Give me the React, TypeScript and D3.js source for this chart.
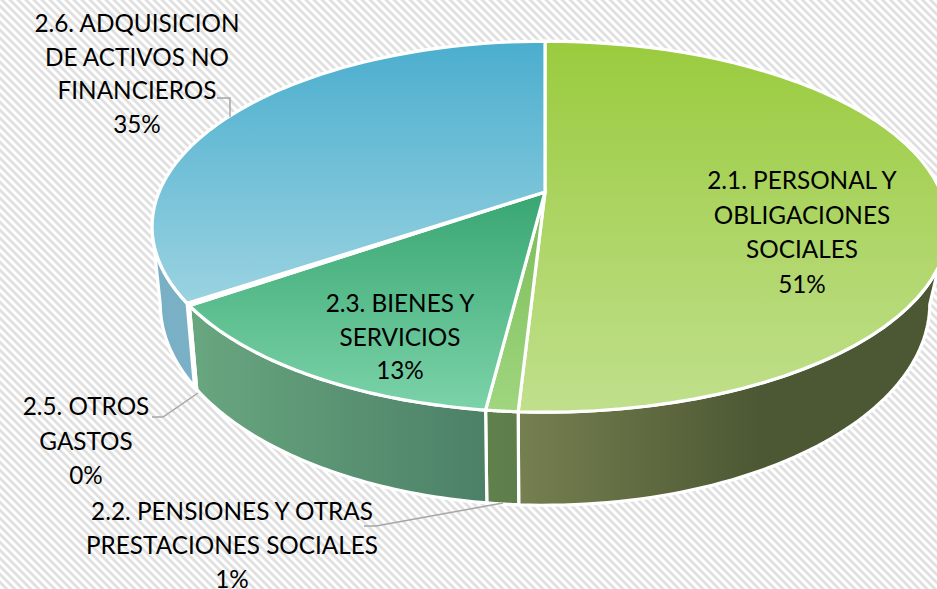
import React from "react";
import * as d3 from "d3";

const W = 937, H = 589;
const categories = ["2.1. PERSONAL Y OBLIGACIONES SOCIALES", "2.2. PENSIONES Y OTRAS PRESTACIONES SOCIALES", "2.3. BIENES Y SERVICIOS", "2.5. OTROS GASTOS", "2.6. ADQUISICION DE ACTIVOS NO FINANCIEROS"];
const values = [50.9, 1.1, 13.4, 0.2, 34.4];
const topFrom = ["#9ACB3E", "#7BBB58", "#38A672", "#ffffff", "#4BAECE"];
const topTo = ["#C0DF8C", "#9FD67E", "#7CD3A9", "#ffffff", "#9BD3E1"];
const sideFrom = ["#757F50", "#60814A", "#68A67F", "#ffffff", "#7AB0C5"];
const sideTo = ["#4C5833", "#5D7E4C", "#4C8067", "#ffffff", "#7FB2C6"];
const labelLines = [
  ["2.1. PERSONAL Y", "OBLIGACIONES", "SOCIALES", "51%"],
  ["2.2. PENSIONES Y OTRAS", "PRESTACIONES SOCIALES", "1%"],
  ["2.3. BIENES Y", "SERVICIOS", "13%"],
  ["2.5. OTROS", "GASTOS", "0%"],
  ["2.6. ADQUISICION", "DE ACTIVOS NO", "FINANCIEROS", "35%"],
];
const labelX = [802, 232, 400, 86, 137];
const labelY = [189, 520, 312, 415, 32];
const labelStep = [34.6, 34, 33.6, 34.5, 33.5];
const leaders = [
  null,
  [[364, 526], [376, 526], [503, 503]],
  null,
  [[152, 417], [163, 417], [198, 393]],
  [[217, 98], [230, 98], [230, 117]],
];

const K = -0.187;
const project = (cy: number, bxRight: number, bxLeft: number, by: number) => (t: number): [number, number] => {
  const X = Math.sin(t), Y = -Math.cos(t), w = 1 + K * Y;
  return [545 + ((X > 0 ? bxRight : bxLeft) * X) / w, cy + (by * Y) / w];
};
const topRim = project(192, 396, 386, 179);
const lowRim = project(266, 378, 378, 194.5);
const sample = (f: (t: number) => [number, number], a: number, b: number) =>
  d3.range(0, 61).map((i) => f(a + ((b - a) * i) / 60));
const line = d3.line();
const rad = (deg: number) => (deg * Math.PI) / 180;
const sideMin = rad(101), sideMax = rad(259);

export default function App() {
  const arcs = d3.pie<number>().sort(null)(values);
  return (
    <svg width={W} height={H} style={{ position: "absolute", left: 0, top: 0 }} fontFamily="Lato" fontSize={24.3}>
      <defs>
        <pattern id="hatch" width="5.66" height="5.66" patternUnits="userSpaceOnUse" patternTransform="rotate(-45)">
          <rect width="5.66" height="5.66" fill="#ffffff" />
          <rect width="2.8" height="5.66" fill="#e0e0e0" />
        </pattern>
        {arcs.map((a, i) => {
          const xs = sample(lowRim, a.startAngle, a.endAngle).map((p) => p[0]);
          return (
            <React.Fragment key={i}>
              <linearGradient id={`top${i}`} gradientUnits="userSpaceOnUse" x1="0" x2="0" y1={i === 0 || i === 4 ? 42 : 192} y2={i === 4 ? 305 : 411}>
                <stop offset="0" stopColor={topFrom[i]} />
                <stop offset="1" stopColor={topTo[i]} />
              </linearGradient>
              <linearGradient id={`side${i}`} gradientUnits="userSpaceOnUse" y1="0" y2="0" x1={i === 0 ? 520 : Math.min(...xs)} x2={i === 0 ? 760 : Math.max(...xs)}>
                <stop offset="0" stopColor={sideFrom[i]} />
                <stop offset="1" stopColor={sideTo[i]} />
              </linearGradient>
            </React.Fragment>
          );
        })}
      </defs>
      <rect width={W} height={H} fill="url(#hatch)" />
      {arcs.map((a, i) => {
        const s = Math.max(a.startAngle, sideMin), e = Math.min(a.endAngle, sideMax);
        if (e <= s) return null;
        const d = line([...sample(topRim, s, e), ...sample(lowRim, s, e).reverse()]) + "Z";
        return <path key={i} d={d} fill={`url(#side${i})`} stroke="#fff" strokeWidth={3.2} strokeLinejoin="round" />;
      })}
      {arcs.map((a, i) => {
        const d = line([[545, 192], ...sample(topRim, a.startAngle, a.endAngle)]) + "Z";
        return <path key={i} d={d} fill={`url(#top${i})`} stroke="#fff" strokeWidth={3.2} strokeLinejoin="miter" />;
      })}
      {leaders.map((l, i) => l && <path key={i} d={line(l as [number, number][]) as string} fill="none" stroke="#a6a6a6" strokeWidth={1.5} />)}
      {labelLines.map((ls, i) => (
        <text key={categories[i]} textAnchor="middle" fill="#000">
          {ls.map((t, j) => (
            <tspan key={j} x={labelX[i]} y={labelY[i] + j * labelStep[i]}>{t}</tspan>
          ))}
        </text>
      ))}
    </svg>
  );
}
